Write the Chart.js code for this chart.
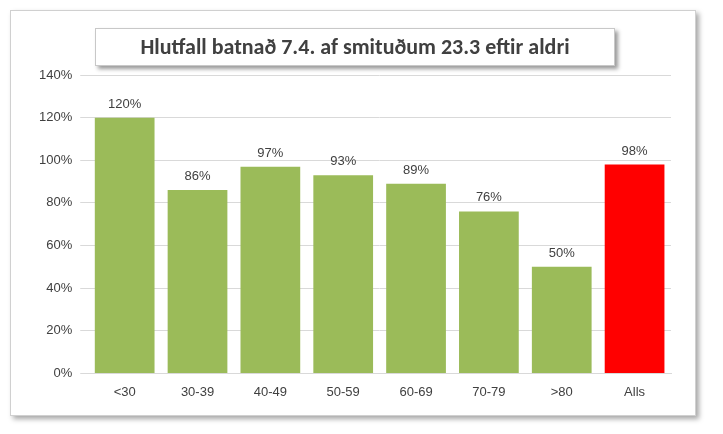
<!DOCTYPE html>
<html>
<head>
<meta charset="utf-8">
<script src="https://cdn.jsdelivr.net/npm/chart.js@4/dist/chart.umd.min.js"></script>
<style>
  body { margin: 0; background: #fff; }
  #wrap { position: absolute; left: 10px; top: 10px; width: 684px; height: 404px;
          border: 1px solid #d0d0d0; box-shadow: 3px 3px 5px rgba(0,0,0,0.35); background: #fff; }
  #title { position: absolute; left: 95px; top: 28px; width: 518px; height: 36px;
           border: 1px solid #c8c8c8; box-shadow: 3px 3px 4px rgba(0,0,0,0.4); background: #fff;
           font: bold 22px Calibri, "Open Sans", sans-serif; color: #404040; text-align: center; line-height: 36px; z-index: 2; }
</style>
</head>
<body>
<div id="wrap"><canvas id="myChart"></canvas></div>
<div id="title">Hlutfall batnað 7.4. af smituðum 23.3 eftir aldri</div>
<script>
var categories = ['<30', '30-39', '40-49', '50-59', '60-69', '70-79', '>80', 'Alls'];
var values = [120, 86, 97, 93, 89, 76, 50, 98];
var colors = ['#9bbb59', '#9bbb59', '#9bbb59', '#9bbb59', '#9bbb59', '#9bbb59', '#9bbb59', '#ff0000'];

var valueLabels = {
    id: 'valueLabels',
    afterDatasetsDraw: function(chart) {
        var ctx = chart.ctx;
        var meta = chart.getDatasetMeta(0);
        ctx.save();
        ctx.font = '13px "Liberation Sans", Arial, sans-serif';
        ctx.fillStyle = '#404040';
        ctx.textAlign = 'center';
        ctx.textBaseline = 'bottom';
        meta.data.forEach(function(bar, i) {
            ctx.fillText(values[i] + '%', bar.x, bar.y - 7);
        });
        ctx.restore();
    }
};

var myChart = document.getElementById('myChart').getContext('2d');
new Chart(myChart, {
    type: 'bar',
    data: {
        labels: categories,
        datasets: [{
            data: values,
            backgroundColor: colors,
            barPercentage: 0.82,
            categoryPercentage: 1
        }]
    },
    options: {
        responsive: true,
        maintainAspectRatio: false,
        animation: false,
        layout: { padding: { left: 20, right: 24, top: 64, bottom: 12 } },
        plugins: { legend: { display: false }, tooltip: { enabled: false } },
        scales: {
            x: {
                grid: { display: false },
                border: { color: '#d9d9d9' },
                ticks: { color: '#404040', font: { size: 13, family: '"Liberation Sans", Arial, sans-serif' } }
            },
            y: {
                min: 0, max: 140,
                grid: { color: '#d9d9d9' },
                border: { display: false },
                ticks: { stepSize: 20, color: '#404040', padding: 8,
                         font: { size: 13, family: '"Liberation Sans", Arial, sans-serif' },
                         callback: function(v) { return v + '%'; } }
            }
        }
    },
    plugins: [valueLabels]
});
</script>
</body>
</html>
